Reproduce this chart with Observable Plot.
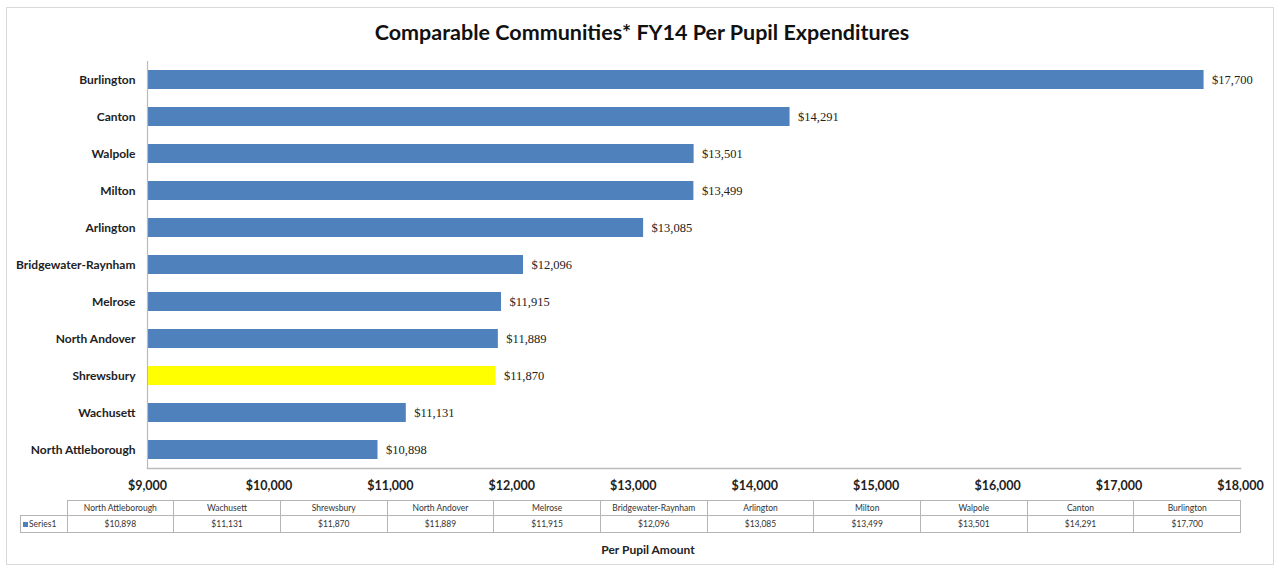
<!DOCTYPE html>
<html><head><meta charset="utf-8">
<script src="https://cdn.jsdelivr.net/npm/d3@7"></script>
<script src="https://cdn.jsdelivr.net/npm/@observablehq/plot@0.6"></script>
<style>
body{margin:0;background:#fff;}
#wrap{position:relative;width:1276px;height:569px;overflow:hidden;background:#fff;font-family:Lato,"Open Sans",sans-serif;}
#frame{position:absolute;left:6px;top:7px;width:1268px;height:558px;border:1px solid #d9d9d9;box-sizing:border-box;}
#title{position:absolute;left:0;width:1284px;top:19px;text-align:center;font-weight:bold;font-size:21.5px;color:#111;}
#chart{position:absolute;left:0;top:50px;}
#tbl{position:absolute;left:20px;top:500px;border-collapse:collapse;font-size:8.5px;color:#333;font-family:Lato,sans-serif;}
#tbl td{border:1px solid #b5b5b5;text-align:center;padding:0;height:14px;}
#xtitle{position:absolute;left:598px;top:542px;font-weight:bold;font-size:12px;color:#222;width:100px;text-align:center;}
</style>
</head><body>
<div id="wrap">
<div id="frame"></div>
<div id="title">Comparable Communities* FY14 Per Pupil Expenditures</div>
<div id="chart"></div>
<table id="tbl"></table>
<div id="xtitle">Per Pupil Amount</div>
</div>
<script>
const communities = ["Burlington","Canton","Walpole","Milton","Arlington","Bridgewater-Raynham","Melrose","North Andover","Shrewsbury","Wachusett","North Attleborough"];
const expenditures = [17700,14291,13501,13499,13085,12096,11915,11889,11870,11131,10898];
const highlight = "Shrewsbury";
const xTicks = [9000,10000,11000,12000,13000,14000,15000,16000,17000,18000];
const seriesName = "Series1";

const data = communities.map((c,i)=>({community:c, value:expenditures[i]}));
const fmt = v => "$" + d3.format(",")(v);

const chart = Plot.plot({
  width:1276, height:450,
  marginLeft:147, marginRight:36, marginTop:11, marginBottom:32,
  style:{fontFamily:"Lato, sans-serif", background:"transparent"},
  x:{domain:[9000,18000], ticks:xTicks, tickFormat:fmt, label:null},
  y:{domain:communities, paddingInner:0.5, paddingOuter:0.25, label:null},
  marks:[
    Plot.barX(data,{x1:9000, x2:"value", y:"community", fill:d=>d.community===highlight?"#ffff00":"#4f81bd"}),
    Plot.text(data,{x:"value", y:"community", text:d=>fmt(d.value), dx:8, textAnchor:"start", fontFamily:"Liberation Serif, serif", fontSize:12.5, fill:"#222"}),
    Plot.frame({anchor:"left", stroke:"#bbb", strokeWidth:1.2}),
    Plot.frame({anchor:"bottom", stroke:"#bbb", strokeWidth:1.5}),
    Plot.axisX({ticks:xTicks, tickFormat:fmt, tickSize:0, tickPadding:13, fontWeight:"bold", fontSize:12.5, fill:"#222"}),
    Plot.axisY({tickSize:0, tickPadding:12, fontWeight:"bold", fontSize:12, fill:"#222"})
  ]
});
document.getElementById("chart").appendChild(chart);

// data table (ascending order)
const asc = communities.map((c,i)=>[c,expenditures[i]]).reverse();
const tbl = document.getElementById("tbl");
let h = '<tr><td style="border:none;width:46px"></td>' + asc.map(d=>`<td style="width:105.7px">${d[0]}</td>`).join("") + '</tr>';
h += `<tr><td style="text-align:left;border-right:1px solid #b5b5b5;border-left:1px solid #b5b5b5;height:16px"><span style="display:inline-block;width:5px;height:5px;background:#4f81bd;margin:0 1px 0 2px;"></span>${seriesName}</td>` + asc.map(d=>`<td style="height:16px">${fmt(d[1])}</td>`).join("") + '</tr>';
tbl.innerHTML = h;
</script>
</body></html>
